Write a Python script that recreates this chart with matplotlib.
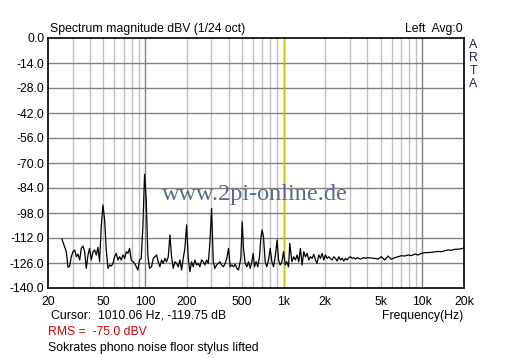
import matplotlib
matplotlib.use("Agg")
import matplotlib.pyplot as plt
from matplotlib.ticker import FixedLocator, NullFormatter

# ---- data (frequency in Hz, magnitude in dBV) ----
freq_low = [25.1, 26.2, 27.0, 27.7, 28.5, 29.3, 30.1, 31.0, 31.9, 32.7, 33.7, 34.6,
            35.6, 36.6, 37.6, 38.7, 39.7, 40.9, 42.0, 43.2, 44.4, 45.6, 46.9, 48.2,
            49.6, 51.0, 52.4, 53.9, 55.4, 57.0, 58.6, 60.2, 61.9, 63.6, 65.4, 67.2,
            69.1, 71.1, 73.0, 75.1, 77.2, 79.4, 81.6, 83.9, 86.2, 88.6, 91.1, 93.7,
            96.3, 99.0, 101.8, 104.7, 107.6]
db_low = [-112.6, -116.9, -119.7, -128.4, -127.7, -122.5, -119.7, -118.7, -122.5, -121.0,
          -124.3, -117.8, -116.5, -119.7, -129.0, -121.5, -117.8, -124.3, -119.7, -118.7,
          -121.5, -117.2, -125.3, -105.7, -93.5, -101.9, -118.7, -129.0, -127.1, -127.7,
          -126.2, -122.5, -120.6, -124.3, -122.5, -124.3, -121.5, -123.4, -119.7, -120.6,
          -117.8, -124.3, -125.3, -126.2, -128.1, -129.9, -124.3, -123.4, -105.7, -76.3,
          -90.7, -122.5, -129.0]

freq_mid1 = [111.2, 114.4, 117.6, 120.9, 124.3, 127.8, 131.4, 135.0, 138.8, 142.7, 146.8,
             150.9, 155.1, 159.5, 164.0, 168.6, 173.3, 178.2, 183.2, 188.3, 193.6, 199.1,
             204.6, 210.4, 216.3, 222.4, 228.6, 235.1, 241.7, 248.5, 255.4, 262.6, 270.0,
             277.6, 285.4, 293.4, 301.6, 310.1, 318.8, 327.8, 337.0, 346.5, 356.2]
db_mid1 = [-128.1, -123.4, -122.5, -121.5, -125.3, -128.1, -124.3, -126.2, -123.4, -125.3,
           -122.5, -110.3, -122.5, -129.0, -125.3, -126.2, -128.1, -124.3, -129.9, -123.4,
           -117.8, -104.7, -123.4, -130.9, -125.3, -128.1, -124.3, -127.1, -126.2, -128.1,
           -124.3, -125.3, -127.1, -124.3, -126.2, -114.1, -95.4, -125.3, -129.0, -127.1,
           -126.2, -125.3, -127.1]

freq_mid2 = [367.6, 377.9, 388.6, 399.5, 410.7, 422.3, 434.1, 446.3, 458.9, 471.8, 490.3,
             501.2, 512.5, 527.1, 541.9, 557.1, 572.8, 588.9, 601.5, 615.1, 632.3, 650.1,
             668.4, 683.4, 698.4, 714.1, 735.0, 755.6, 776.9, 798.7, 821.2, 844.3, 868.0,
             896.0, 917.4, 943.2, 969.7, 997.0, 1025.0, 1053.8, 1083.4, 1106.0, 1145.1]
db_mid2 = [-128.1, -126.2, -123.4, -117.8, -128.1, -127.1, -128.1, -126.7, -129.0, -129.9,
           -123.4, -102.9, -117.8, -126.2, -128.1, -125.3, -129.0, -125.3, -120.6, -128.1,
           -125.3, -128.1, -122.5, -112.2, -107.5, -111.3, -125.3, -128.1, -124.3, -117.8,
           -125.3, -128.1, -122.5, -113.1, -124.3, -127.1, -125.3, -119.7, -127.1, -125.3,
           -128.1, -115.0, -125.3]

freq_high1 = [1181.6, 1214.8, 1248.8, 1283.9, 1320.0, 1357.0, 1395.2, 1434.4, 1474.8,
              1516.2, 1558.8, 1602.6, 1647.6, 1693.9, 1741.6, 1790.5, 1840.8, 1892.6,
              1945.7, 2000.4, 2056.6, 2114.4, 2173.8, 2234.9, 2297.7, 2362.3, 2428.7,
              2496.9, 2567.1, 2639.2, 2713.4, 2789.6, 2868.0, 2948.6, 3031.5, 3116.6,
              3204.2, 3294.3, 3386.8, 3482.0, 3579.9, 3680.4, 3783.9, 3890.2, 3999.5]
db_high1 = [-122.5, -124.3, -121.5, -125.3, -117.8, -127.1, -119.7, -122.5, -120.6,
            -124.3, -122.5, -123.4, -121.1, -124.3, -126.2, -121.5, -123.4, -120.6,
            -124.3, -121.5, -123.4, -122.5, -123.4, -124.3, -122.5, -123.4, -124.9,
            -122.5, -124.3, -123.4, -124.9, -123.4, -124.3, -123.0, -122.5, -123.4,
            -123.0, -123.8, -123.0, -123.4, -123.8, -123.4, -123.0, -123.4, -123.0]

freq_high2 = [4537, 4793, 5069, 5356, 5664, 5983, 6328, 6688, 7069, 7472, 7898, 8348,
              8824, 9327, 9858, 10420, 11014, 11642, 12305, 13007, 13748, 14532, 15360,
              16235, 17161, 18139, 19172, 20000]
db_high2 = [-123.4, -123.8, -122.5, -124.3, -122.1, -123.9, -123.0, -122.5, -121.9,
            -122.1, -121.5, -121.9, -121.0, -121.5, -120.6, -120.2, -120.2, -120.0,
            -119.8, -119.5, -119.7, -119.1, -118.7, -118.9, -118.3, -118.3, -118.0, -117.6]

x_ticks = [20, 50, 100, 200, 500, 1000, 2000, 5000, 10000, 20000]
x_tick_labels = ["20", "50", "100", "200", "500", "1k", "2k", "5k", "10k", "20k"]
y_ticks = [0, -14, -28, -42, -56, -70, -84, -98, -112, -126, -140]
cursor_freq = 1010.06

# ---- figure ----
plt.rcParams['font.family'] = ['Liberation Sans', 'DejaVu Sans']
fig = plt.figure(figsize=(5.12, 3.58), dpi=100)
fig.patch.set_facecolor('white')
W, H = 512, 358
ax = fig.add_axes([48.3 / W, 1 - 288 / H, (464 - 48.3) / W, 250 / H])
ax.set_xscale('log')
ax.set_xlim(20, 20000)
ax.set_ylim(-140, 0)

# grid lines
minor = []
for dec in (10, 100, 1000, 10000):
    for m in range(2, 10):
        v = dec * m
        if 20 < v < 20000:
            minor.append(v)
for v in minor:
    ax.axvline(v, color='#c0c0c0', lw=1.0, zorder=1)
for v in (100, 1000, 10000):
    ax.axvline(v, color='#808080', lw=1.0, zorder=1)
for v in y_ticks[1:-1]:
    ax.axhline(v, color='#808080', lw=1.0, zorder=1)
ax.axvline(cursor_freq, color='#c8c800', lw=1.0, zorder=2)

freq = freq_low + freq_mid1 + freq_mid2 + freq_high1 + freq_high2
db = db_low + db_mid1 + db_mid2 + db_high1 + db_high2
ax.plot(freq, db, color='black', lw=0.9, zorder=3)

ax.xaxis.set_major_locator(FixedLocator(x_ticks))
ax.set_xticklabels(x_tick_labels)
ax.xaxis.set_minor_formatter(NullFormatter())
ax.set_yticks(y_ticks)
ax.set_yticklabels(["%.1f" % v for v in y_ticks])
fs = 8.8
ax.tick_params(axis='both', which='both', length=0, labelsize=fs, colors='black')
ax.tick_params(axis='x', pad=6)
ax.tick_params(axis='y', pad=3)
for s in ax.spines.values():
    s.set_color('black')
    s.set_linewidth(1.2)
    s.set_zorder(5)

# texts
fig.text(50 / W, 1 - 29 / H, "Spectrum magnitude dBV (1/24 oct)", fontsize=fs, va='center', ha='left')
fig.text(463 / W, 1 - 29 / H, "Left  Avg:0", fontsize=fs, va='center', ha='right')
for i, ch in enumerate("ARTA"):
    fig.text(473 / W, 1 - (45 + 13 * i) / H, ch, fontsize=fs, va='center', ha='center', color='#202050')
ax.text(0.497, 0.375, "www.2pi-online.de", transform=ax.transAxes, ha='center', va='center',
        fontsize=17.5, family=['Liberation Serif', 'DejaVu Serif'], color='#5a6a8c', zorder=4)
fig.text(463 / W, 1 - 316 / H, "Frequency(Hz)", fontsize=fs, va='center', ha='right')
fig.text(51 / W, 1 - 316 / H, "Cursor:  1010.06 Hz, -119.75 dB", fontsize=fs, va='center', ha='left')
fig.text(48 / W, 1 - 332 / H, "RMS =  -75.0 dBV", fontsize=fs, va='center', ha='left', color='#d00000')
fig.text(48 / W, 1 - 348 / H, "Sokrates phono noise floor stylus lifted", fontsize=fs, va='center', ha='left')

fig.savefig("out.png", dpi=100, facecolor='white')
